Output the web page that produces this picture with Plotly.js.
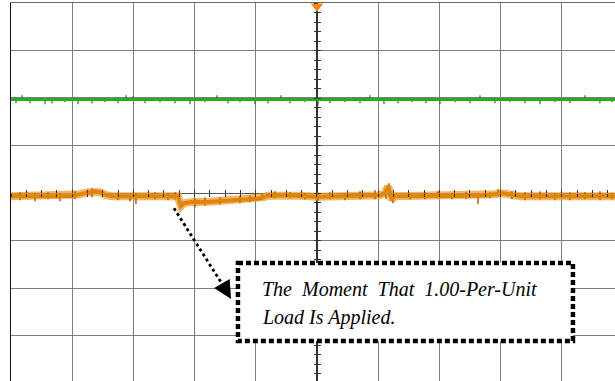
<!DOCTYPE html>
<html><head><meta charset="utf-8">
<script src="https://cdn.plot.ly/plotly-3.0.1.min.js"></script>
<style>html,body{margin:0;padding:0;background:#fff}#chart{width:615px;height:381px}</style>
</head><body><div id="chart"></div>
<script>
// Oscilloscope readings in screen divisions (x: time div from centre, y: div from centre)
const greenX = [-5.0, 4.9];
const greenY = [1.97, 1.97];
const greenSpikeX = [-4.918,-4.820,-4.690,-4.444,-4.330,-4.118,-3.905,-3.676,-3.464,-3.252,-3.121,-3.007,-2.810,-2.565,-2.320,-2.075,-1.830,-1.634,-1.454,-1.258,-1.013,-0.801,-0.588,-0.441,-0.196,0.016,0.212,0.458,0.703,0.866,1.095,1.324,1.552,1.781,2.010,2.255,2.500,2.663,2.908,3.154,3.399,3.644,3.889,4.134,4.379,4.624,4.820];
const greenSpikeTip = [1.891,2.059,1.891,1.870,1.891,1.912,1.870,1.891,1.912,1.891,2.059,2.038,1.891,1.912,1.891,1.870,1.912,2.059,1.891,1.912,1.870,1.891,2.059,1.891,1.912,1.849,1.891,1.912,1.891,2.059,1.870,1.891,1.912,1.891,1.870,1.912,1.891,2.059,1.891,1.912,1.891,1.870,1.912,1.891,2.059,1.891,1.912];

const orangeX = [-5.0,-4.526,-3.99,-3.873,-3.742,-3.627,-3.546,-3.448,-3.350,-2.729,-2.271,-2.255,-2.222,-2.173,-2.075,-1.748,-1.422,-1.095,-0.964,-0.866,-0.801,-0.523,-0.278,0.0,0.376,0.866,1.029,1.111,1.160,1.193,1.225,1.258,1.356,2.010,2.663,2.908,3.023,3.154,3.317,3.971,4.9];
const orangeY = [-0.063,-0.063,-0.063,-0.021,0.021,0.042,0.021,-0.042,-0.063,-0.063,-0.063,-0.147,-0.273,-0.210,-0.189,-0.179,-0.158,-0.137,-0.116,-0.084,-0.053,-0.042,-0.053,-0.074,-0.063,-0.053,-0.042,0.0,0.147,0.021,-0.147,-0.063,-0.063,-0.063,-0.053,-0.021,0.0,-0.021,-0.063,-0.063,-0.063];
const orangeSpikeX = [-4.853,-4.608,-4.395,-4.199,-3.954,-3.676,-3.252,-3.056,-2.958,-2.647,-2.435,-2.320,-1.993,-1.830,-1.585,-1.258,-1.095,-0.899,-0.686,-0.441,-0.196,0.016,0.212,0.458,0.703,0.948,1.127,1.176,1.242,1.520,1.765,1.977,2.206,2.435,2.631,2.827,2.958,3.186,3.399,3.644,3.889,4.134,4.379,4.624,4.820];
const orangeSpikeHi = [0.021,0,0.021,0,0.042,0.105,0,-0.021,0,0.021,0,0.021,-0.105,-0.084,-0.084,-0.063,-0.042,-0.021,0.042,0.021,0,0.021,0.021,0,0.042,0.063,0.084,0.210,-0.021,0,0.021,0.042,0,0.021,0,0.021,0.084,0.042,0.021,0.042,0,0.021,0.021,0.042,0];
const orangeSpikeLo = [-0.147,-0.168,-0.126,-0.168,-0.126,-0.084,-0.147,-0.168,-0.231,-0.126,-0.147,-0.126,-0.294,-0.252,-0.231,-0.210,-0.189,-0.147,-0.105,-0.105,-0.126,-0.168,-0.126,-0.147,-0.126,-0.126,-0.126,-0.063,-0.210,-0.126,-0.126,-0.105,-0.126,-0.126,-0.231,-0.105,-0.063,-0.126,-0.147,-0.126,-0.147,-0.147,-0.126,-0.147,-0.126];

const greenMarkerY = [1.0];
const orangeMarkerY = [0.34, 0.04, -2.0];
const triggerX = [0];
const triggerY = [3.93];

const noteLine1 = "The \u00a0Moment \u00a0That \u00a01.00-Per-Unit";
const noteLine2 = "Load Is Applied.";

// build spike segments from the arrays
const gsx = [], gsy = [];
greenSpikeX.forEach((x, i) => { gsx.push(x, x, null); gsy.push(greenY[0], greenSpikeTip[i], null); });
const osx = [], osy = [];
orangeSpikeX.forEach((x, i) => { osx.push(x, x, null); osy.push(orangeSpikeLo[i], orangeSpikeHi[i], null); });

const XR = [-5, 4.87], YR = [-3.95, 4];
const SERIF = "'Liberation Serif', 'Times New Roman', Times, serif";

const traces = [
  {x: orangeX, y: orangeY, mode:'lines', line:{color:'rgba(238,158,55,0.75)', width:8}, hoverinfo:'skip'},
  {x: osx, y: osy, mode:'lines', line:{color:'#a8650a', width:1.5}, hoverinfo:'skip', connectgaps:false},
  {x: orangeX, y: orangeY, mode:'lines', line:{color:'#e0850a', width:4}, hoverinfo:'skip'},
  {x: gsx, y: gsy, mode:'lines', line:{color:'#1f7f1f', width:1.2}, hoverinfo:'skip', connectgaps:false},
  {x: greenX, y: greenY, mode:'lines', line:{color:'#2aac22', width:3.2}, hoverinfo:'skip'},
  {x: greenMarkerY.map(() => -5.04), y: greenMarkerY, mode:'markers', marker:{symbol:'triangle-right', size:6, color:'#2fae2a'}, cliponaxis:false, hoverinfo:'skip'},
  {x: orangeMarkerY.map(() => -5.04), y: orangeMarkerY, mode:'markers', marker:{symbol:'triangle-right', size:[3,5,5], color:'#f08c00'}, cliponaxis:false, hoverinfo:'skip'},
  {x: triggerX, y: triggerY, mode:'markers', marker:{symbol:'triangle-down', size:11, color:'#f5880a'}, cliponaxis:false, hoverinfo:'skip'},
  {x:[0], y:[0], xaxis:'x2', yaxis:'y2', mode:'markers', marker:{opacity:0}, hoverinfo:'skip'},
  {x:[0], y:[0], xaxis:'x3', yaxis:'y3', mode:'markers', marker:{opacity:0}, hoverinfo:'skip'}
];

const baseAx = {showticklabels:false, showgrid:false, zeroline:false, showline:false, fixedrange:true};
const layout = {
  width:615, height:381,
  margin:{l:11, r:0, t:3, b:0},
  paper_bgcolor:'#fff', plot_bgcolor:'#fff',
  showlegend:false,
  font:{family:SERIF, color:'#000'},
  xaxis:{range:XR, tick0:0, dtick:1, showgrid:true, gridcolor:'#7d7d7d', gridwidth:1.2,
         zeroline:true, zerolinecolor:'#333', zerolinewidth:1.2, showticklabels:false, ticks:'',
         showline:true, linecolor:'#666', linewidth:1.5, side:'top', fixedrange:true},
  yaxis:{range:YR, tick0:0, dtick:1, showgrid:true, gridcolor:'#7d7d7d', gridwidth:1.2,
         zeroline:true, zerolinecolor:'#555', zerolinewidth:1.2, showticklabels:false, ticks:'',
         showline:true, linecolor:'#111', linewidth:1.5, side:'left', fixedrange:true},
  xaxis2:Object.assign({}, baseAx, {overlaying:'x', anchor:'free', position:0.4974, range:XR, tick0:0, dtick:0.25, ticks:'outside', ticklen:3, tickcolor:'#333', tickwidth:1}),
  xaxis3:Object.assign({}, baseAx, {overlaying:'x', anchor:'free', position:0.4974, range:XR, tick0:0, dtick:0.25, ticks:'inside', ticklen:3, tickcolor:'#333', tickwidth:1}),
  yaxis2:Object.assign({}, baseAx, {overlaying:'y', anchor:'free', position:0.5066, range:YR, tick0:0, dtick:0.2, ticks:'outside', ticklen:3, tickcolor:'#333', tickwidth:1}),
  yaxis3:Object.assign({}, baseAx, {overlaying:'y', anchor:'free', position:0.5066, range:YR, tick0:0, dtick:0.2, ticks:'inside', ticklen:3, tickcolor:'#333', tickwidth:1}),
  shapes:[
    {type:'rect', xref:'x', yref:'y', x0:-1.291, x1:4.183, y0:-1.47, y1:-3.109,
     line:{color:'#000', width:4.5, dash:'5px,3px'}, fillcolor:'#fff', layer:'above'},
    {type:'line', xref:'x', yref:'y', x0:-2.337, y0:-0.315, x1:-1.487, y1:-2.038,
     line:{color:'#000', width:2.8, dash:'dot'}, layer:'above'}
  ],
  annotations:[
    {x:-1.405, y:-2.227, xref:'x', yref:'y', text:'', showarrow:true, arrowhead:2, arrowsize:1.8, arrowwidth:2, arrowcolor:'#000', ax:-7, ay:-12},
    {x:-0.93, y:-2.017, xref:'x', yref:'y', xanchor:'left', yanchor:'middle', showarrow:false, text:noteLine1,
     font:{family:SERIF, size:20, color:'#000', style:'italic'}},
    {x:-0.93, y:-2.605, xref:'x', yref:'y', xanchor:'left', yanchor:'middle', showarrow:false, text:noteLine2,
     font:{family:SERIF, size:20, color:'#000', style:'italic'}}
  ]
};

Plotly.newPlot('chart', traces, layout, {displayModeBar:false, staticPlot:true});
</script>
</body></html>
